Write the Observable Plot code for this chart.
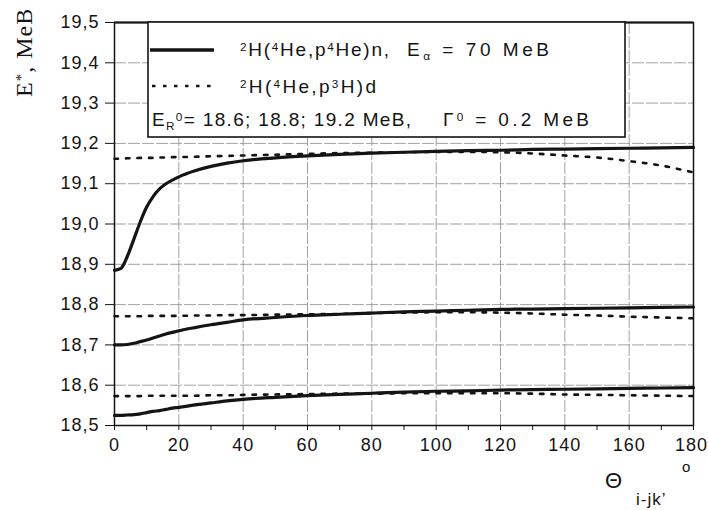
<!DOCTYPE html>
<html><head><meta charset="utf-8">
<script src="https://cdn.jsdelivr.net/npm/d3@7"></script>
<script src="https://cdn.jsdelivr.net/npm/@observablehq/plot@0.6"></script>
<style>body{margin:0;background:#fff} svg{display:block}</style>
</head><body><div id="chart"></div>
<script>
// ---- data ----
const angle = [0,2,4,6,8,10,12,14,16,18,20,25,30,35,40,50,60,70,80,90,100,110,120,130,140,150,160,170,180];
// 2H(4He,p4He)n  (solid) for E_R = 19.2, 18.8, 18.6 MeV
const solid192 = [18.885,18.89,18.92,18.962,19.005,19.042,19.068,19.087,19.1,19.109,19.117,19.132,19.143,19.151,19.157,19.164,19.169,19.173,19.176,19.178,19.18,19.182,19.183,19.185,19.186,19.187,19.188,19.189,19.19];
const solid188 = [18.70,18.70,18.701,18.704,18.708,18.712,18.717,18.722,18.727,18.731,18.735,18.743,18.75,18.756,18.762,18.768,18.773,18.776,18.779,18.782,18.784,18.786,18.788,18.789,18.79,18.791,18.792,18.793,18.794];
const solid186 = [18.525,18.525,18.526,18.527,18.529,18.532,18.535,18.537,18.54,18.543,18.545,18.551,18.556,18.561,18.565,18.57,18.574,18.577,18.58,18.583,18.585,18.586,18.588,18.589,18.59,18.591,18.592,18.593,18.594];
// 2H(4He,p3H)d  (dotted)
const dotted192 = [19.162,19.162,19.163,19.163,19.164,19.164,19.164,19.165,19.165,19.166,19.166,19.167,19.168,19.169,19.17,19.172,19.174,19.176,19.177,19.178,19.179,19.179,19.178,19.175,19.17,19.165,19.156,19.145,19.128];
const dotted188 = [18.771,18.771,18.771,18.771,18.771,18.772,18.772,18.772,18.772,18.772,18.772,18.773,18.773,18.774,18.774,18.775,18.776,18.777,18.779,18.78,18.781,18.781,18.78,18.778,18.775,18.773,18.77,18.768,18.766];
const dotted186 = [18.573,18.573,18.573,18.573,18.573,18.574,18.574,18.574,18.574,18.574,18.574,18.574,18.575,18.575,18.576,18.577,18.578,18.579,18.579,18.58,18.58,18.58,18.58,18.579,18.577,18.576,18.575,18.574,18.573];

const yTicks = [18.5,18.6,18.7,18.8,18.9,19.0,19.1,19.2,19.3,19.4,19.5];
const xTicks = [0,10,20,30,40,50,60,70,80,90,100,110,120,130,140,150,160,170,180];
const xGrid = [20,40,60,80,100,120,140,160];

const toRows = (vals, curve) => vals.map((v, i) => ({angle: angle[i], value: v, curve}));
const solidRows = [...toRows(solid192,"19.2"), ...toRows(solid188,"18.8"), ...toRows(solid186,"18.6")];
const dottedRows = [...toRows(dotted192,"19.2"), ...toRows(dotted188,"18.8"), ...toRows(dotted186,"18.6")];

const ink = "#141414";
const gridStyle = {stroke: "#8c8c8c", strokeOpacity: 1, strokeWidth: 0.8, strokeDasharray: "12,2"};

const svgNode = Plot.plot({
  width: 708, height: 510,
  marginLeft: 114, marginRight: 15, marginTop: 22, marginBottom: 85,
  x: {domain: [0, 180]},
  y: {domain: [18.5, 19.5]},
  style: {fontFamily: "'Liberation Sans', Arial, sans-serif", fontSize: "18px", color: ink, background: "white", letterSpacing: "1px"},
  marks: [
    Plot.gridY(yTicks.slice(1, -1), gridStyle),
    Plot.gridX(xGrid, gridStyle),
    Plot.line(dottedRows, {x: "angle", y: "value", z: "curve", stroke: ink, strokeWidth: 2.6, strokeDasharray: "3.5,8", curve: "monotone-x"}),
    Plot.line(solidRows, {x: "angle", y: "value", z: "curve", stroke: ink, strokeWidth: 3.2, curve: "monotone-x"}),
    Plot.frame({stroke: ink, strokeWidth: 1.5}),
    Plot.ruleY([19.5], {stroke: ink, strokeWidth: 2.2}),
    Plot.axisY({ticks: yTicks, tickSize: 9, tickPadding: 6, label: null, fontSize: 18,
      tickFormat: d => d.toFixed(1).replace(".", ",")}),
    Plot.axisX({ticks: xTicks, tickSize: 5, tickPadding: 8, label: null, fontSize: 18, textStroke: "none",
      tickFormat: d => d % 20 === 0 ? String(d) : ""})
  ]
});
document.getElementById("chart").appendChild(svgNode);
// keep the last x tick label inside the picture like the reference
d3.select(svgNode).selectAll("[aria-label='x-axis tick label'] text")
  .filter(function() { return this.textContent === "180"; })
  .attr("dx", -2);

// ---- legend and axis titles (annotations) ----
const svg = d3.select(svgNode);
function rich(sel, x, y, parts, size, len) {
  const t = sel.append("text").attr("x", x).attr("y", y)
    .attr("font-size", size).attr("fill", ink).attr("text-anchor", "start")
    .attr("font-family", "'Liberation Sans', Arial, sans-serif");
  if (len) t.attr("textLength", len).attr("lengthAdjust", "spacing");
  for (const [txt, kind] of parts) {
    const s = t.append("tspan").text(txt);
    if (kind === "sup") s.attr("baseline-shift", "45%").attr("font-size", size * 0.62);
    if (kind === "sub") s.attr("baseline-shift", "-30%").attr("font-size", size * 0.62);
  }
  return t;
}
const lg = svg.append("g").attr("text-anchor", "start");
lg.append("rect").attr("x", 148).attr("y", 22).attr("width", 477).attr("height", 115)
  .attr("fill", "white").attr("stroke", ink).attr("stroke-width", 1.6);
lg.append("line").attr("x1", 150).attr("x2", 214).attr("y1", 50).attr("y2", 50)
  .attr("stroke", ink).attr("stroke-width", 3.4);
lg.append("line").attr("x1", 152).attr("x2", 214).attr("y1", 86).attr("y2", 86)
  .attr("stroke", ink).attr("stroke-width", 2.6).attr("stroke-dasharray", "3.5,7.5");
rich(lg, 240, 56, [["2","sup"],["H(",""],["4","sup"],["He,p",""],["4","sup"],["He)n,",""]], 19, 150);
rich(lg, 407, 56, [["E",""],["α","sub"],[" = 70 MeB",""]], 19, 143);
rich(lg, 240, 93, [["2","sup"],["H(",""],["4","sup"],["He,p",""],["3","sup"],["H)d",""]], 19, 137);
rich(lg, 152, 126, [["E",""],["R","sub"],["0","sup"],["= 18.6; 18.8; 19.2 MeB,",""]], 19, 260);
rich(lg, 443, 126, [["Γ",""],["0","sup"],[" = 0.2 MeB",""]], 19, 147);

// y title
const yt = svg.append("text").attr("transform", "translate(32,97) rotate(-90)")
  .attr("text-anchor", "start")
  .attr("font-family", "'Liberation Serif', 'Times New Roman', serif")
  .attr("font-size", 24).attr("fill", ink).attr("letter-spacing", "1px");
yt.append("tspan").text("E");
yt.append("tspan").text("*").attr("baseline-shift", "40%").attr("font-size", 15);
yt.append("tspan").text(", MeB");

// x title
rich(svg, 605, 488, [["Θ",""]], 22);
rich(svg, 636, 505, [["i-jk’",""]], 17);
rich(svg, 682, 472, [["o",""]], 15);
</script>
</body></html>
